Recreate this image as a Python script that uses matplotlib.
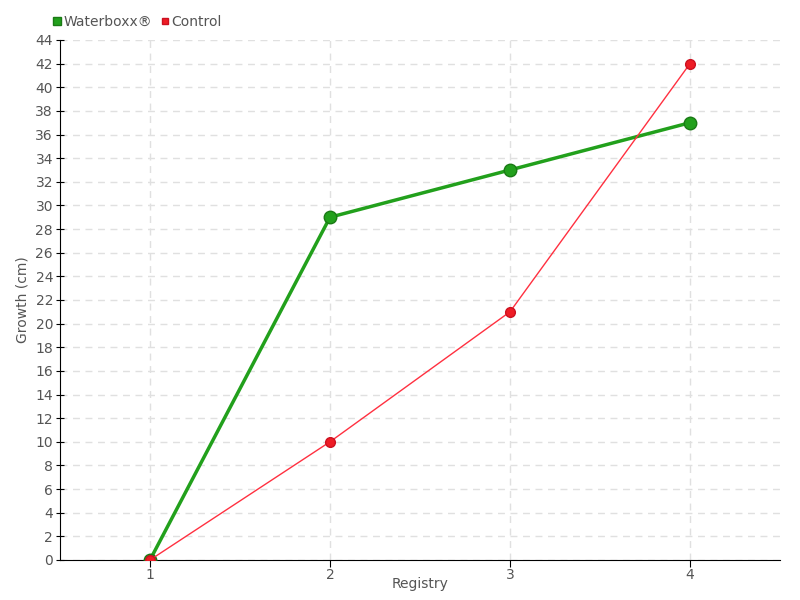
import matplotlib
matplotlib.use("Agg")
import matplotlib.pyplot as plt

registry = [1, 2, 3, 4]
waterboxx = [0, 29, 33, 37]
control = [0, 10, 21, 42]
y_ticks = list(range(0, 45, 2))

plt.rcParams["font.family"] = ["DejaVu Sans"]
text_color = "#555555"

fig = plt.figure(figsize=(8, 6), dpi=100)
ax = fig.add_axes([0.075, 0.0667, 0.9, 0.8667])

ax.plot(registry, waterboxx, color="#22a01c", lw=2.5, marker="o", ms=9,
        mfc="#22a01c", mec="#1a7a15", zorder=3, label="Waterboxx®")
ax.plot(registry, control, color="#ff3040", lw=1, marker="o", ms=7,
        mfc="#ee1c25", mec="#cc1020", zorder=4, label="Control")

ax.set_xlim(0.5, 4.5)
ax.set_ylim(0, 44)
ax.set_xticks(registry)
ax.set_yticks(y_ticks)
ax.grid(True, color="#e0e0e0", ls=(0, (5, 4)), lw=1)
ax.set_axisbelow(True)
for s in ["top", "right"]:
    ax.spines[s].set_visible(False)
ax.tick_params(axis="y", direction="inout", length=6, pad=2, colors="black",
               labelcolor=text_color, labelsize=10)
ax.tick_params(axis="x", direction="out", length=5, pad=1, colors="black",
               labelcolor=text_color, labelsize=10)

ax.set_xlabel("Registry", color=text_color, fontsize=10, labelpad=-4)
ax.set_ylabel("Growth (cm)", color=text_color, fontsize=10, labelpad=4)

leg = ax.legend(loc="lower left", bbox_to_anchor=(-0.022, 1.005), ncol=2, frameon=False,
                handlelength=0.6, handletextpad=0.2, columnspacing=0.6,
                markerscale=0.6, fontsize=10, borderaxespad=0.2)
for h in leg.legend_handles:
    h.set_linestyle("none")
    h.set_marker("s")
for t in leg.get_texts():
    t.set_color(text_color)

fig.savefig("out.png", dpi=100)
